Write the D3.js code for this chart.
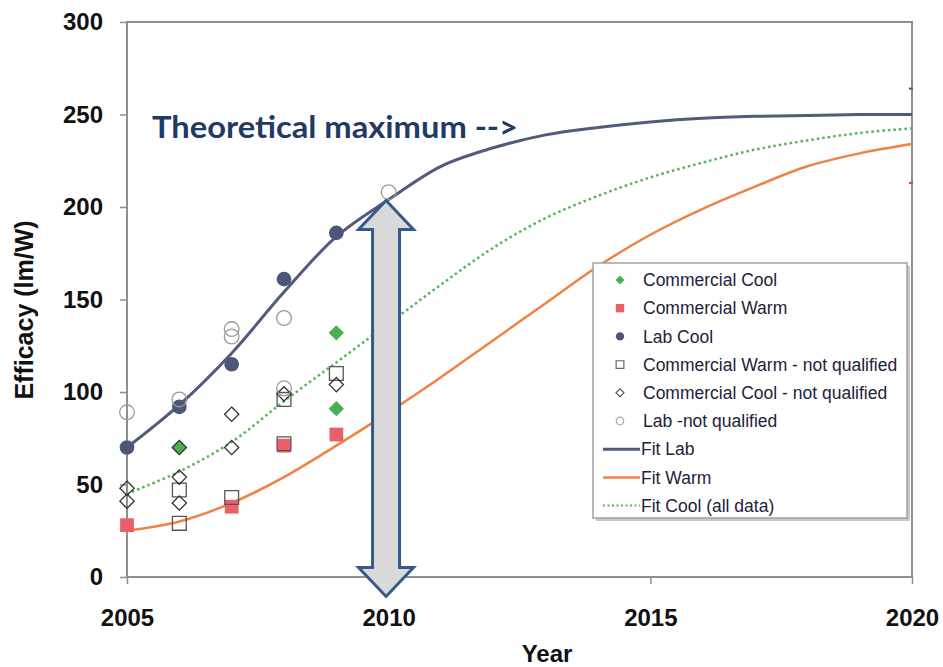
<!DOCTYPE html>
<html>
<head>
<meta charset="utf-8">
<script src="https://cdn.jsdelivr.net/npm/d3@7"></script>
<style>
  html, body { margin: 0; padding: 0; background: #fff; }
  svg { display: block; }
</style>
</head>
<body>
<svg id="chart" width="943" height="667"></svg>
<script>
// ---- data ----
const fitYears = [2005, 2006, 2007, 2008, 2009, 2010, 2011, 2012, 2013, 2014, 2015, 2016, 2017, 2018, 2019, 2020];
const fitLab  = [70, 93, 121, 154, 184, 204, 222, 232, 239, 243, 246, 248, 249, 249.5, 250, 250];
const fitWarm = [25, 30, 40, 54, 71, 89, 108, 128, 148, 168, 185, 199, 211, 222, 229, 234];
const fitCool = [45, 57, 73, 95, 116, 137, 158, 178, 194, 206, 216, 224, 231, 236, 240, 242.5];

const commercialCool   = [[2006, 70], [2009, 132], [2009, 91]];
const commercialWarm   = [[2005, 28], [2007, 38], [2008, 71], [2009, 77]];
const labCool          = [[2005, 70], [2006, 92], [2007, 115], [2008, 161], [2009, 186]];
const commWarmNQ       = [[2006, 47], [2006, 29], [2007, 43], [2008, 72], [2008, 96], [2009, 110]];
const commCoolNQ       = [[2005, 48], [2005, 41], [2006, 70], [2006, 54], [2006, 40], [2007, 88], [2007, 70], [2008, 99], [2009, 104]];
const labNQ            = [[2005, 89], [2006, 96], [2007, 134], [2007, 130], [2008, 140], [2008, 102], [2010, 208]];

const edgeMarks = [[2020, 264, "#3f5a8c"], [2020, 213, "#c0504d"]];

const xTicks = [2005, 2010, 2015, 2020];
const yTicks = [0, 50, 100, 150, 200, 250, 300];

const legendLabels = [
  "Commercial Cool", "Commercial Warm", "Lab Cool",
  "Commercial Warm - not qualified", "Commercial Cool - not qualified", "Lab -not qualified",
  "Fit Lab", "Fit Warm", "Fit Cool (all data)"
];

// annotation arrow (year, from value, to value)
const arrowYear = 2009.95, arrowFrom = -10.5, arrowTo = 203.5;

// ---- drawing ----
const svg = d3.select("#chart");
const x = d3.scaleLinear().domain([2005, 2020]).range([127, 912]);
const y = d3.scaleLinear().domain([0, 300]).range([577, 22]);

const C = {
  lab: "#4d5677", labLine: "#515b7b", warm: "#e9606c", cool: "#4cae50",
  warmLine: "#ef8244", coolLine: "#52b558", axis: "#8f8f8f", nq: "#555", nqCircle: "#9a9a9a"
};

// plot frame
svg.append("rect")
  .attr("x", x(2005)).attr("y", y(300))
  .attr("width", x(2020) - x(2005)).attr("height", y(0) - y(300))
  .attr("fill", "#fff").attr("stroke", C.axis).attr("stroke-width", 2);

// axes
const font = "'Liberation Sans', Arial, sans-serif";
const yAxis = svg.append("g").attr("transform", `translate(${x(2005)},0)`)
  .call(d3.axisLeft(y).tickValues(yTicks).tickSize(7).tickPadding(17).tickFormat(d3.format("d")));
const xAxis = svg.append("g").attr("transform", `translate(0,${y(0)})`)
  .call(d3.axisBottom(x).tickValues(xTicks).tickSize(7).tickPadding(25).tickFormat(d3.format("d")));
[yAxis, xAxis].forEach(g => {
  g.select(".domain").remove();
  g.selectAll(".tick line").attr("stroke", C.axis).attr("stroke-width", 1.5);
  g.selectAll(".tick text").attr("fill", "#111").style("font-family", font)
    .style("font-weight", "bold").style("font-size", "24px");
});

svg.append("text").attr("transform", "rotate(-90)")
  .attr("x", -310).attr("y", 33).attr("text-anchor", "middle")
  .style("font-family", font).style("font-weight", "bold").style("font-size", "25px")
  .attr("fill", "#111").text("Efficacy (lm/W)");
svg.append("text").attr("x", 547).attr("y", 662).attr("text-anchor", "middle")
  .style("font-family", font).style("font-weight", "bold").style("font-size", "24px")
  .attr("fill", "#111").text("Year");

// fit curves
const line = vals => d3.line().x((d, i) => x(fitYears[i])).y(d => y(d)).curve(d3.curveCatmullRom.alpha(0.5))(vals);
svg.append("path").attr("d", line(fitCool)).attr("fill", "none").attr("stroke", C.coolLine)
  .attr("stroke-width", 2.5).attr("stroke-dasharray", "2.5,3");
svg.append("path").attr("d", line(fitWarm)).attr("fill", "none").attr("stroke", C.warmLine).attr("stroke-width", 2.5);
svg.append("path").attr("d", line(fitLab)).attr("fill", "none").attr("stroke", C.labLine).attr("stroke-width", 3);

// marker helpers
const sym = (type, size) => d3.symbol().type(type).size(size)();
function drawPoints(data, type, size, fill, stroke, sw) {
  svg.append("g").selectAll("path").data(data).join("path")
    .attr("transform", d => `translate(${x(d[0])},${y(d[1])})`)
    .attr("d", sym(type, size))
    .attr("fill", fill).attr("stroke", stroke).attr("stroke-width", sw);
}

drawPoints(commercialCool, d3.symbolDiamond2, 150, C.cool, "none", 0);
drawPoints(commercialWarm, d3.symbolSquare, 190, C.warm, "none", 0);
drawPoints(labCool, d3.symbolCircle, 170, C.lab, "none", 0);
drawPoints(commWarmNQ, d3.symbolSquare, 190, "none", C.nq, 1.3);
drawPoints(commCoolNQ, d3.symbolDiamond2, 130, "none", "#333", 1.3);
drawPoints(labNQ, d3.symbolCircle, 170, "none", C.nqCircle, 1.3);

// small marks on the right edge
svg.append("g").selectAll("line").data(edgeMarks).join("line")
  .attr("x1", d => x(d[0]) - 3).attr("x2", d => x(d[0]) + 1)
  .attr("y1", d => y(d[1])).attr("y2", d => y(d[1]))
  .attr("stroke", d => d[2]).attr("stroke-width", 2);

// double-headed arrow
(function () {
  const cx = x(arrowYear), top = y(arrowTo), bot = y(arrowFrom);
  const head = 29, hw = 27.5, sw = 13.5;
  const p = d3.path();
  p.moveTo(cx, top);
  p.lineTo(cx + hw, top + head); p.lineTo(cx + sw, top + head);
  p.lineTo(cx + sw, bot - head); p.lineTo(cx + hw, bot - head);
  p.lineTo(cx, bot);
  p.lineTo(cx - hw, bot - head); p.lineTo(cx - sw, bot - head);
  p.lineTo(cx - sw, top + head); p.lineTo(cx - hw, top + head);
  p.closePath();
  svg.append("path").attr("d", p.toString()).attr("fill", "#d9d9d9")
    .attr("stroke", "#34598a").attr("stroke-width", 3).attr("stroke-linejoin", "miter");
})();

// annotation text
svg.append("text").attr("x", 152).attr("y", 138)
  .attr("textLength", 366).attr("lengthAdjust", "spacingAndGlyphs")
  .style("font-family", "Lato, 'Open Sans', sans-serif").style("font-weight", "bold").style("font-size", "31px")
  .attr("fill", "#1f3a64").text("Theoretical maximum -->");

// legend
const lg = svg.append("g");
const lx = 593, ly = 263, lw = 314, lh = 255;
lg.append("rect").attr("x", lx + 3).attr("y", ly + 3).attr("width", lw).attr("height", lh).attr("fill", "#c8c8c8");
lg.append("rect").attr("x", lx).attr("y", ly).attr("width", lw).attr("height", lh)
  .attr("fill", "#fff").attr("stroke", "#a0a0a0").attr("stroke-width", 1.5);

const rowY = i => 280 + i * 28.2;
const mx = 620;
const legendMarks = [
  { t: d3.symbolDiamond2, s: 50, f: C.cool, st: "none" },
  { t: d3.symbolSquare, s: 70, f: C.warm, st: "none" },
  { t: d3.symbolCircle, s: 55, f: C.lab, st: "none" },
  { t: d3.symbolSquare, s: 60, f: "none", st: "#666" },
  { t: d3.symbolDiamond2, s: 40, f: "none", st: "#555" },
  { t: d3.symbolCircle, s: 45, f: "none", st: "#aaa" }
];
legendMarks.forEach((m, i) => {
  lg.append("path").attr("transform", `translate(${mx},${rowY(i)})`).attr("d", sym(m.t, m.s))
    .attr("fill", m.f).attr("stroke", m.st).attr("stroke-width", 1.2);
});
const legendLines = [
  { c: C.labLine, w: 3, dash: null },
  { c: C.warmLine, w: 2.5, dash: null },
  { c: C.coolLine, w: 2, dash: "2,2.5" }
];
legendLines.forEach((l, j) => {
  const i = 6 + j;
  lg.append("line").attr("x1", 603).attr("x2", 640).attr("y1", rowY(i)).attr("y2", rowY(i))
    .attr("stroke", l.c).attr("stroke-width", l.w).attr("stroke-dasharray", l.dash);
});
legendLabels.forEach((t, i) => {
  lg.append("text").attr("x", i < 6 ? 643 : 641).attr("y", rowY(i)).attr("dy", "0.35em")
    .style("font-family", font).style("font-size", "17.5px").attr("fill", "#22223a").text(t);
});
</script>
</body>
</html>
